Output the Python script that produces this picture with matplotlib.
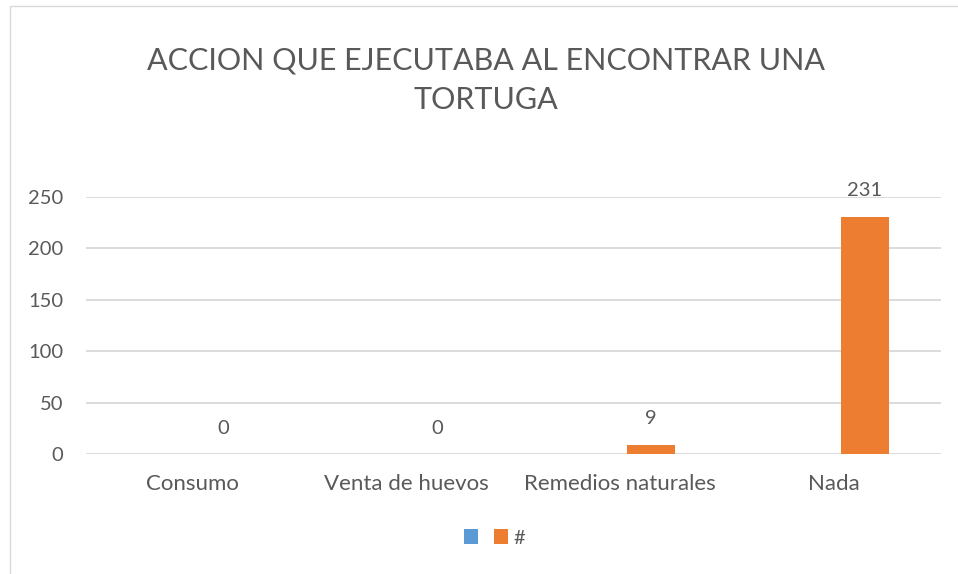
import matplotlib
matplotlib.use("Agg")
import matplotlib.pyplot as plt
from matplotlib.patches import Rectangle, Patch
import numpy as np

categories = ["Consumo", "Venta de huevos", "Remedios naturales", "Nada"]
blue_values = [0, 0, 0, 0]
orange_values = [0, 0, 9, 231]
series_names = ["", "#"]
yticks = [0, 50, 100, 150, 200, 250]
title = "ACCION QUE EJECUTABA AL ENCONTRAR UNA\nTORTUGA"

W, H = 958, 574
DPI = 100
plt.rcParams['font.family'] = ['Lato', 'DejaVu Sans']
TXT = '#595959'
GRID = '#D9D9D9'
BLUE = '#5B9BD5'
ORANGE = '#ED7D31'

fig = plt.figure(figsize=(W / DPI, H / DPI), dpi=DPI)
fig.patch.set_facecolor('white')

# chart frame
fig.patches.append(Rectangle((10 / W, -0.05), 1.2, 1 - 6 / H + 0.05, transform=fig.transFigure,
                             fill=False, edgecolor=GRID, linewidth=1.0))

ax_left, ax_right = 86, 941
ax_top, ax_bottom = 197, 454
ax = fig.add_axes([ax_left / W, (H - ax_bottom) / H, (ax_right - ax_left) / W, (ax_bottom - ax_top) / H])

x = np.arange(len(categories))
gap = 2.19
overlap = 0.27
w = 1.0 / (2 + overlap + gap)
off = (w + overlap * w) / 2

ax.bar(x - off, blue_values, width=w, color=BLUE, linewidth=0, zorder=3)
bars = ax.bar(x + off, orange_values, width=w, color=ORANGE, linewidth=0, zorder=3)

for xi, v in zip(x, orange_values):
    ax.annotate(str(v), xy=(xi + off, v), xytext=(0, 26), textcoords='offset pixels',
                ha='center', va='center', fontsize=14.5, color=TXT)

ax.set_xlim(-0.5, len(categories) - 0.5)
ax.set_ylim(0, 250)
ax.set_yticks(yticks)
ax.set_yticklabels([str(t) for t in yticks])
ax.set_xticks(x)
ax.set_xticklabels(categories, fontsize=16)
ax.tick_params(axis='both', length=0, labelcolor=TXT)
ax.tick_params(axis='y', pad=16.5, labelsize=14.5)
ax.tick_params(axis='x', pad=14.5)
for s in ax.spines.values():
    s.set_visible(False)
ax.grid(axis='y', color=GRID, linewidth=1.3, zorder=0)
ax.set_axisbelow(True)

fig.text(486 / W, 1 - 80 / H, title, ha='center', va='center', fontsize=22,
         color=TXT, linespacing=1.5)

handles = [Patch(facecolor=BLUE), Patch(facecolor=ORANGE)]
fig.legend(handles, series_names, loc='center', bbox_to_anchor=(494.5 / W, 1 - 538 / H),
           ncol=2, frameon=False, fontsize=14.5, labelcolor=TXT,
           handlelength=0.7, handleheight=0.7, handletextpad=0.3, columnspacing=0.5)

fig.savefig('out.png', dpi=DPI)
